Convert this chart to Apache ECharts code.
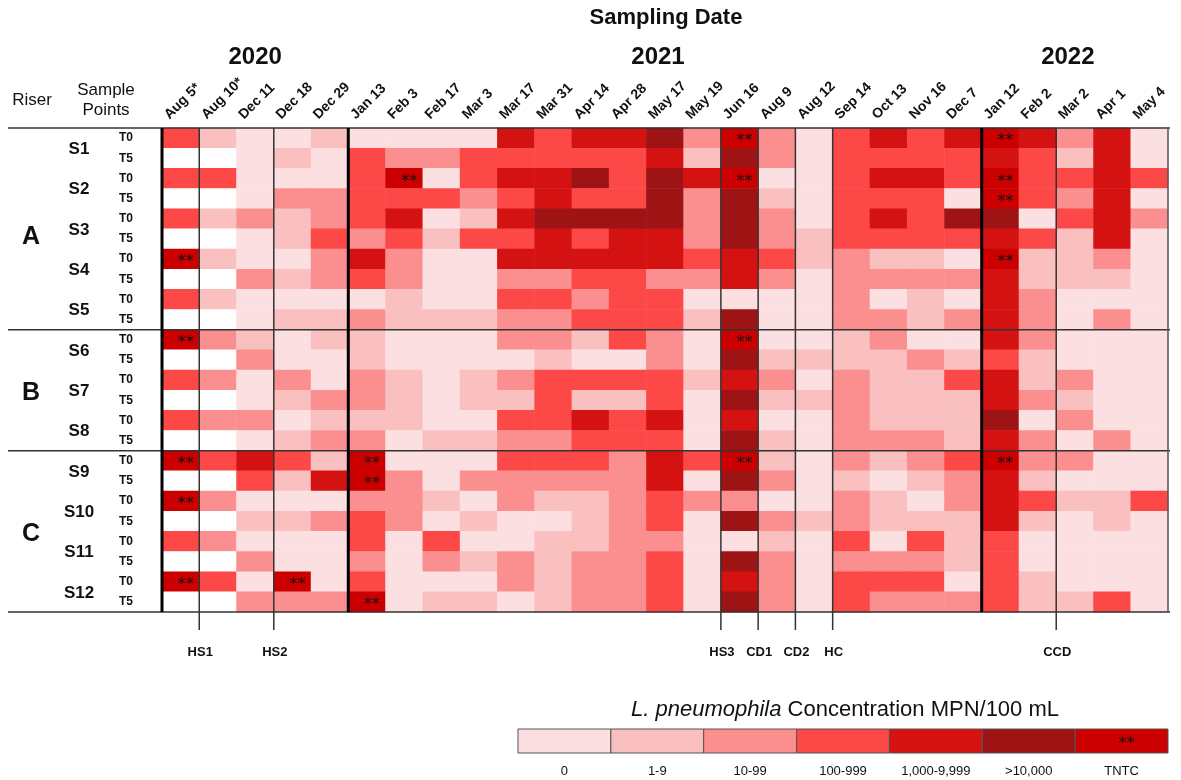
<!DOCTYPE html>
<html>
<head>
<meta charset="utf-8">
<script src="https://cdn.jsdelivr.net/npm/echarts@6/dist/echarts.min.js"></script>
<style>html,body{margin:0;padding:0;background:#fff}#c{width:1181px;height:780px}</style>
</head>
<body>
<div id="c"></div>
<script>
// ---- Data ----
const dates = ['Aug 5*','Aug 10*','Dec 11','Dec 18','Dec 29','Jan 13','Feb 3','Feb 17','Mar 3','Mar 17','Mar 31','Apr 14','Apr 28','May 17','May 19','Jun 16','Aug 9','Aug 12','Sep 14','Oct 13','Nov 16','Dec 7','Jan 12','Feb 2','Mar 2','Apr 1','May 4'];
const years = ['2020','2021','2022'];
const yearStartCol = [0,5,22];
const yearEndCol = [4,21,26];
const samplePoints = ['S1','S2','S3','S4','S5','S6','S7','S8','S9','S10','S11','S12'];
const times = ['T0','T5'];
const risers = ['A','B','C'];
const riserFirstRow = [0,10,16];
const riserLastRow = [9,15,23];
const eventLabels = ['HS1','HS2','HS3','CD1','CD2','HC','CCD'];
const eventBeforeCol = [1,3,15,16,17,18,24];
const levelLabels = ['0','1-9','10-99','100-999','1,000-9,999','>10,000','TNTC'];
// level codes: -1 = not sampled (white), 0..5 = concentration classes, 6 = TNTC
const s1t0 = [3,1,0,0,1,0,0,0,0,4,3,4,4,5,2,6,2,0,3,4,3,4,6,4,2,4,0];
const s1t5 = [-1,-1,0,1,0,3,2,2,3,3,3,3,3,4,1,5,2,0,3,3,3,3,4,3,1,4,0];
const s2t0 = [3,3,0,0,0,3,6,0,3,4,4,5,3,5,4,6,0,0,3,4,4,3,6,3,3,4,3];
const s2t5 = [-1,-1,0,2,2,3,3,3,2,3,4,3,3,5,2,5,1,0,3,3,3,0,6,3,2,4,0];
const s3t0 = [3,1,2,1,2,3,4,0,1,4,5,5,5,5,2,5,2,0,3,4,3,5,5,0,3,4,2];
const s3t5 = [-1,-1,0,1,3,2,3,1,3,3,4,3,4,4,2,5,2,1,3,3,3,3,4,3,1,4,0];
const s4t0 = [6,1,0,0,2,4,2,0,0,4,4,4,4,4,3,4,3,1,2,1,1,0,6,1,1,2,0];
const s4t5 = [-1,-1,2,1,2,3,2,0,0,2,2,3,3,2,2,4,2,0,2,2,2,2,4,1,1,1,0];
const s5t0 = [3,1,0,0,0,0,1,0,0,3,3,2,3,3,0,0,0,0,2,0,1,0,4,2,0,0,0];
const s5t5 = [-1,-1,0,1,1,2,1,1,1,2,2,3,3,3,1,5,0,0,2,2,1,2,4,2,0,2,0];
const s6t0 = [6,2,1,0,1,1,0,0,0,2,2,1,3,2,0,6,0,0,1,2,0,0,4,2,0,0,0];
const s6t5 = [-1,-1,2,0,0,1,0,0,0,0,1,0,0,2,0,5,1,1,1,1,2,1,3,1,0,0,0];
const s7t0 = [3,2,0,2,0,2,1,0,1,2,3,3,3,3,1,4,2,0,2,1,1,3,4,1,2,0,0];
const s7t5 = [-1,-1,0,1,2,2,1,0,1,1,3,1,1,3,0,5,1,1,2,1,1,1,4,2,1,0,0];
const s8t0 = [3,2,2,0,1,1,1,0,0,3,3,4,3,4,0,4,0,0,2,1,1,1,5,0,2,0,0];
const s8t5 = [-1,-1,0,1,2,2,0,1,1,2,2,3,3,3,0,5,1,0,2,2,2,1,4,2,0,2,0];
const s9t0 = [6,3,4,3,1,6,0,0,0,3,3,3,2,4,3,6,1,0,2,1,2,3,6,2,2,0,0];
const s9t5 = [-1,-1,3,1,4,6,2,0,2,2,2,2,2,4,0,5,2,0,1,0,1,2,4,1,0,0,0];
const s10t0 = [6,2,0,0,0,2,2,1,0,2,1,1,2,3,2,2,0,0,2,1,0,2,4,3,1,1,3];
const s10t5 = [-1,-1,1,1,2,3,2,0,1,0,0,1,2,3,0,5,2,1,2,1,1,1,4,1,0,1,0];
const s11t0 = [3,2,0,0,0,3,0,3,0,0,1,1,2,2,0,0,1,0,3,0,3,1,3,0,0,0,0];
const s11t5 = [-1,-1,2,0,0,2,0,2,1,2,1,2,2,3,0,5,2,0,2,2,2,1,3,0,0,0,0];
const s12t0 = [6,3,0,6,0,3,0,0,0,2,1,2,2,3,0,4,2,0,3,3,3,0,3,1,0,0,0];
const s12t5 = [-1,-1,2,2,2,6,0,1,1,0,1,2,2,3,0,5,2,0,3,2,2,2,3,1,1,3,0];
const levelRows = [s1t0,s1t5,s2t0,s2t5,s3t0,s3t5,s4t0,s4t5,s5t0,s5t5,s6t0,s6t5,
                   s7t0,s7t5,s8t0,s8t5,s9t0,s9t5,s10t0,s10t5,s11t0,s11t5,s12t0,s12t5];

// ---- Styles ----
const levelColors = ['#fcdfe0','#fabfbf','#fb8e8e','#fd4848','#d41212','#9e1314','#cc0000'];
const FONT = "'Liberation Sans', Arial, sans-serif";

const rowNames = [];
samplePoints.forEach(s => times.forEach(t => rowNames.push(s + ' ' + t)));
const data = [];
levelRows.forEach((row, r) => row.forEach((v, c) => data.push([c, r, v])));

const chart = echarts.init(document.getElementById('c'), null, {renderer: 'canvas'});
chart.setOption({
  animation: false,
  backgroundColor: '#fff',
  grid: {left: 162, right: 13, top: 128, bottom: 168},
  xAxis: {type: 'category', data: dates, position: 'top',
    axisLine: {show: false}, axisTick: {show: false}, axisLabel: {show: false}, splitLine: {show: false}},
  yAxis: {type: 'category', data: rowNames, inverse: true,
    axisLine: {show: false}, axisTick: {show: false}, axisLabel: {show: false}, splitLine: {show: false}},
  visualMap: {type: 'piecewise', show: false, dimension: 2,
    pieces: [{value: -1, color: '#ffffff'}].concat(levelColors.map((c, i) => ({value: i, color: c})))},
  series: [{
    type: 'heatmap', data: data,
    itemStyle: {borderWidth: 0},
    emphasis: {disabled: true},
    label: {show: true, formatter: p => p.value[2] === 6 ? '**' : '',
      color: '#111', fontSize: 16, fontFamily: 'DejaVu Sans', offset: [5, 3]}
  }]
});

// ---- Decorations positioned through the chart's own scales ----
const px = (c, r) => chart.convertToPixel({gridIndex: 0}, [c, r]);
const c0 = px(0, 0), c1 = px(1, 1);
const cw = c1[0] - c0[0], rh = c1[1] - c0[1];
const colLeft = c => px(c, 0)[0] - cw / 2;
const rowTop = r => px(0, r)[1] - rh / 2;
const gridTop = rowTop(0), gridBottom = rowTop(23) + rh;
const gridLeft = colLeft(0), gridRight = colLeft(26) + cw;

const g = [];
function txt(text, x, y, size, weight, align, vAlign, extra) {
  return Object.assign({type: 'text', x: x, y: y, z: 100,
    style: {text: text, fontSize: size, fontWeight: weight, fontFamily: FONT, fill: '#111',
      textAlign: align, textVerticalAlign: vAlign, align: align, verticalAlign: vAlign}}, extra || {});
}
function line(x1, y1, x2, y2, w, color) {
  return {type: 'line', z: 90, shape: {x1: x1, y1: y1, x2: x2, y2: y2}, style: {stroke: color, lineWidth: w}};
}

// Title and years
g.push(txt('Sampling Date', 666, 18, 22, 'bold', 'center', 'middle'));
years.forEach((y, i) => {
  const cx = (colLeft(yearStartCol[i]) + colLeft(yearEndCol[i]) + cw) / 2;
  g.push(txt(y, i === 0 ? cx : cx - 7, 57, 24, 'bold', 'center', 'middle'));
});
// Column labels (rotated)
dates.forEach((d, i) => {
  const cx = px(i, 0)[0];
  g.push(txt(d, cx - 9, 122, 14, 'bold', 'left', 'bottom', {rotation: Math.PI / 4}));
});
// Row header texts
g.push(txt('Riser', 32, 100, 17, 'normal', 'center', 'middle'));
g.push(txt('Sample', 106, 90, 17, 'normal', 'center', 'middle'));
g.push(txt('Points', 106, 110, 17, 'normal', 'center', 'middle'));
risers.forEach((r, i) => {
  const yc = (rowTop(riserFirstRow[i]) + rowTop(riserLastRow[i]) + rh) / 2;
  g.push(txt(r, 31, i === 0 ? yc + 8 : yc + 3, 25, 'bold', 'center', 'middle'));
});
samplePoints.forEach((s, i) => {
  const yc = rowTop(2 * i) + rh;
  g.push(txt(s, 79, yc + 1, 17, 'bold', 'center', 'middle'));
  times.forEach((t, k) => {
    g.push(txt(t, 126, px(0, 2 * i + k)[1], 12, 'bold', 'center', 'middle'));
  });
});
// Horizontal rules
[gridTop, rowTop(riserFirstRow[1]), rowTop(riserFirstRow[2]), gridBottom].forEach(y => {
  g.push(line(8, y, gridRight + 2, y, 1.5, '#333'));
});
// Year boundary thick lines
[0, yearStartCol[1], yearStartCol[2]].forEach(c => {
  const x = colLeft(c);
  g.push(line(x, gridTop, x, gridBottom, 3, '#000'));
});
// Right edge
g.push(line(gridRight, gridTop, gridRight, gridBottom, 1.5, '#555'));
// Event lines and labels
eventBeforeCol.forEach((c, i) => {
  const x = colLeft(c);
  g.push(line(x, gridTop, x, gridBottom + 18, 1.5, '#333'));
  g.push(txt(eventLabels[i], x + 1, 652, 13, 'bold', 'center', 'middle'));
});

// Legend
const legL = 518, legR = 1168, legT = 729, legH = 24;
const legW = (legR - legL) / levelLabels.length;
g.push({type: 'text', x: 845, y: 710, z: 100,
  style: {text: '{i|L. pneumophila} Concentration MPN/100 mL', fontSize: 22, fontFamily: FONT, fill: '#111',
    textAlign: 'center', textVerticalAlign: 'middle', align: 'center', verticalAlign: 'middle',
    rich: {i: {fontStyle: 'italic', fontSize: 22, fontFamily: FONT, fill: '#111'}}}});
levelLabels.forEach((l, i) => {
  g.push({type: 'rect', z: 95, shape: {x: legL + i * legW, y: legT, width: legW, height: legH},
    style: {fill: levelColors[i], stroke: '#555', lineWidth: 1}});
  g.push(txt(l, legL + (i + 0.5) * legW, 771, 13, 'normal', 'center', 'middle'));
});
g.push({type: 'text', x: legL + 6.5 * legW + 5, y: legT + legH / 2 + 3, z: 100,
  style: {text: '**', fontSize: 16, fontFamily: 'DejaVu Sans', fill: '#111',
    textAlign: 'center', textVerticalAlign: 'middle', align: 'center', verticalAlign: 'middle'}});

chart.setOption({graphic: {elements: g}});
</script>
</body>
</html>
